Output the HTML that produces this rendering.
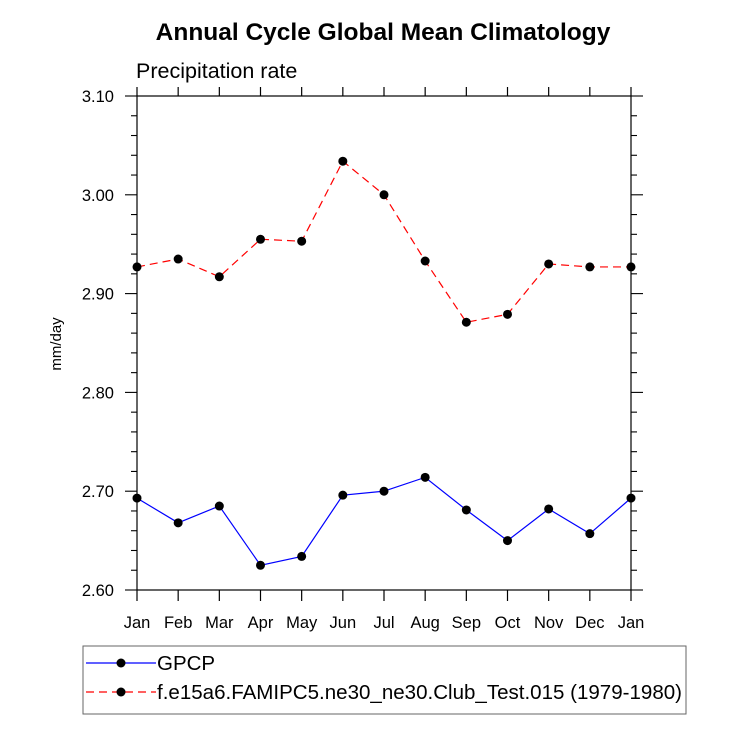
<!DOCTYPE html>
<html><head><meta charset="utf-8"><style>
body{margin:0;background:#fff}
svg{display:block;font-family:"Liberation Sans",Arial,sans-serif}
</style></head><body>
<svg id="chart" width="732" height="732" viewBox="0 0 732 732">
<text x="383" y="40" text-anchor="middle" font-size="24.5" font-weight="bold">Annual Cycle Global Mean Climatology</text>
<text x="136" y="78" font-size="21.5">Precipitation rate</text>
<text transform="translate(61,344) rotate(-90)" text-anchor="middle" font-size="15">mm/day</text>
<rect x="137" y="96" width="494" height="494" fill="none" stroke="#000" stroke-width="1.2"/>
<g id="axes"></g>
<g id="series"></g>
<g>
<rect x="83" y="646" width="603" height="68" fill="none" stroke="#666" stroke-width="1"/>
<line x1="86" y1="663" x2="156" y2="663" stroke="#0000ff" stroke-width="1.2"/>
<circle cx="121" cy="663" r="4.5" fill="#000"/>
<text x="157" y="670" font-size="20.5">GPCP</text>
<line x1="86" y1="692" x2="156" y2="692" stroke="#ff0000" stroke-width="1.2" stroke-dasharray="8,5"/>
<circle cx="121" cy="692" r="4.5" fill="#000"/>
<text x="157" y="699" font-size="20.5" textLength="525" lengthAdjust="spacingAndGlyphs">f.e15a6.FAMIPC5.ne30_ne30.Club_Test.015 (1979-1980)</text>
</g>
</svg>
<script>
const months=["Jan","Feb","Mar","Apr","May","Jun","Jul","Aug","Sep","Oct","Nov","Dec","Jan"];
const gpcp=[2.693,2.668,2.685,2.625,2.634,2.696,2.700,2.714,2.681,2.650,2.682,2.657,2.693];
const model=[2.927,2.935,2.917,2.955,2.953,3.034,3.000,2.933,2.871,2.879,2.930,2.927,2.927];
const yTicks=["2.60","2.70","2.80","2.90","3.00","3.10"];
const NS="http://www.w3.org/2000/svg";
const L=137,R=631,T=96,B=590,ymin=2.6,ymax=3.1;
function xs(i){return L+(R-L)*i/(months.length-1);}
function ys(v){return B-(v-ymin)/(ymax-ymin)*(B-T);}
function mk(tag,attrs,parent){const e=document.createElementNS(NS,tag);for(const k in attrs)e.setAttribute(k,attrs[k]);parent.appendChild(e);return e;}
const ax=document.getElementById('axes');
months.forEach((m,i)=>{
  const x=xs(i);
  let t=mk('line',{x1:x,y1:B,x2:x,y2:B+11,stroke:'#000','stroke-width':1.2},ax);
  
  
  t=mk('line',{x1:x,y1:T,x2:x,y2:T-9,stroke:'#000','stroke-width':1.2},ax);
  
  
  const lb=mk('text',{x:x,y:628,'text-anchor':'middle','font-size':16.5},ax);
  lb.textContent=m;
  
  
});
for(let k=0;k<=25;k++){
  const v=ymin+k*0.02,y=ys(v),major=k%5===0,len=major?12:6;
  let t=mk('line',{x1:L-len,y1:y,x2:L,y2:y,stroke:'#000','stroke-width':1.1},ax);
  
  
  t=mk('line',{x1:R,y1:y,x2:R+len,y2:y,stroke:'#000','stroke-width':1.1},ax);
  
  
}
yTicks.forEach(s=>{
  const lb=mk('text',{x:114,y:ys(parseFloat(s))+6,'text-anchor':'end','font-size':16.5},ax);
  lb.textContent=s;
  
  
});
const sg=document.getElementById('series');
function draw(vals,color,dash,name){
  const p=mk('polyline',{points:vals.map((v,i)=>xs(i)+','+ys(v)).join(' '),fill:'none',stroke:color,'stroke-width':1.2},sg);
  if(dash)p.setAttribute('stroke-dasharray',dash);
  
  
  vals.forEach((v,i)=>{
    const c=mk('circle',{cx:xs(i),cy:ys(v),r:4.5,fill:'#000'},sg);
    
    
  });
}
draw(gpcp,'#0000ff',null,'gpcp');
draw(model,'#ff0000','8,5','model');
</script>
</body></html>
